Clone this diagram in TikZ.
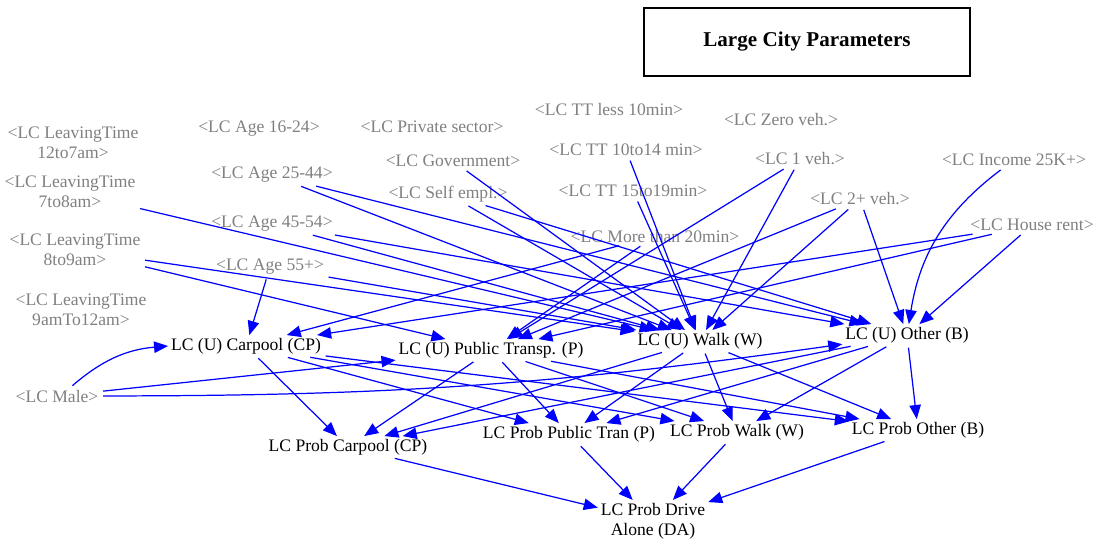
\documentclass[tikz,border=0pt]{standalone}
\usepackage{fontspec}
\setmainfont{Liberation Serif}
\usetikzlibrary{arrows.meta}
\definecolor{linkblue}{RGB}{0,0,255}
\definecolor{shadowgray}{RGB}{128,128,128}

\begin{document}
\begin{tikzpicture}[
    var/.style={inner sep=1.5pt, align=center, font=\fontsize{10}{11.5}\selectfont},
    shadow/.style={var, text=shadowgray},
    link/.style={-{Triangle[length=8pt,width=6.5pt]}, line width=0.7pt,
                 color=linkblue, shorten <=1pt},
  ]
  \useasboundingbox (0,0) rectangle (22.06,-10.84);

  % title box
  \node[draw, line width=0.6pt, minimum width=6.52cm, minimum height=1.36cm,
        font=\bfseries\fontsize{12}{14}\selectfont] (title) at (16.14,-0.84) {Large City Parameters};

  % shadow variables
  \node[shadow] (lt12) at (1.46,-2.86) {<LC LeavingTime\\12to7am>};
  \node[shadow] (lt7) at (1.40,-3.84) {<LC LeavingTime\\7to8am>};
  \node[shadow] (lt8) at (1.50,-5.00) {<LC LeavingTime\\8to9am>};
  \node[shadow] (lt9) at (1.62,-6.20) {<LC LeavingTime\\9amTo12am>};
  \node[shadow] (age16) at (5.18,-2.58) {<LC Age 16-24>};
  \node[shadow] (age25) at (5.44,-3.50) {<LC Age 25-44>};
  \node[shadow] (age45) at (5.44,-4.48) {<LC Age 45-54>};
  \node[shadow] (age55) at (5.40,-5.34) {<LC Age 55+>};
  \node[shadow] (priv) at (8.64,-2.54) {<LC Private sector>};
  \node[shadow] (gov) at (9.06,-3.22) {<LC Government>};
  \node[shadow] (self) at (8.96,-3.88) {<LC Self empl.>};
  \node[shadow] (tt10) at (12.18,-2.18) {<LC TT less 10min>};
  \node[shadow] (tt1014) at (12.52,-3.00) {<LC TT 10to14 min>};
  \node[shadow] (tt1519) at (12.66,-3.82) {<LC TT 15to19min>};
  \node[shadow] (tt20) at (13.10,-4.72) {<LC More than 20min>};
  \node[shadow] (veh0) at (15.62,-2.40) {<LC Zero veh.>};
  \node[shadow] (veh1) at (16.00,-3.18) {<LC 1 veh.>};
  \node[shadow] (veh2) at (17.20,-3.98) {<LC 2+ veh.>};
  \node[shadow] (inc) at (20.28,-3.20) {<LC Income 25K+>};
  \node[shadow] (rent) at (20.64,-4.50) {<LC House rent>};
  \node[shadow] (male) at (1.14,-7.92) {<LC Male>};

  % utilities
  \node[var] (uCP) at (4.92,-6.92) {LC (U) Carpool (CP)};
  \node[var] (uP) at (9.82,-7.00) {LC (U) Public Transp. (P)};
  \node[var] (uW) at (14.00,-6.82) {LC (U) Walk (W)};
  \node[var] (uB) at (18.14,-6.70) {LC (U) Other (B)};

  % probabilities
  \node[var] (pCP) at (6.96,-8.94) {LC Prob Carpool (CP)};
  \node[var] (pP) at (11.38,-8.68) {LC Prob Public Tran (P)};
  \node[var] (pW) at (14.74,-8.64) {LC Prob Walk (W)};
  \node[var] (pB) at (18.36,-8.60) {LC Prob Other (B)};
  \node[var] (pDA) at (13.06,-10.42) {LC Prob Drive\\Alone (DA)};

  % links into the utilities
  \foreach \s in {age55,tt20,rent} \draw[link] (\s) -- (uCP);
  \draw[link] ([xshift=8pt]male.north) to[bend left=18] (uCP.west);
  \foreach \s in {lt8,tt20,veh1,veh2,rent,male} \draw[link] (\s) -- (uP);
  \foreach \s in {lt7,lt8,age25,age45,age55,gov,self,tt1014,tt1519,veh1,veh2}
    \draw[link] (\s) -- (uW);
  \foreach \s in {age25,age45,self,veh2,rent} \draw[link] (\s) -- (uB);
  \draw[link] (inc) to[bend right=22] (uB);
  \draw[link] (male) to[bend right=4] (uB);

  % links into the probabilities
  \foreach \u in {uCP,uP,uW,uB}
    \foreach \p in {pCP,pP,pW,pB}
      \draw[link] (\u) -- (\p);
  \foreach \p in {pCP,pP,pW,pB} \draw[link] (\p) -- (pDA);
\end{tikzpicture}
\end{document}
